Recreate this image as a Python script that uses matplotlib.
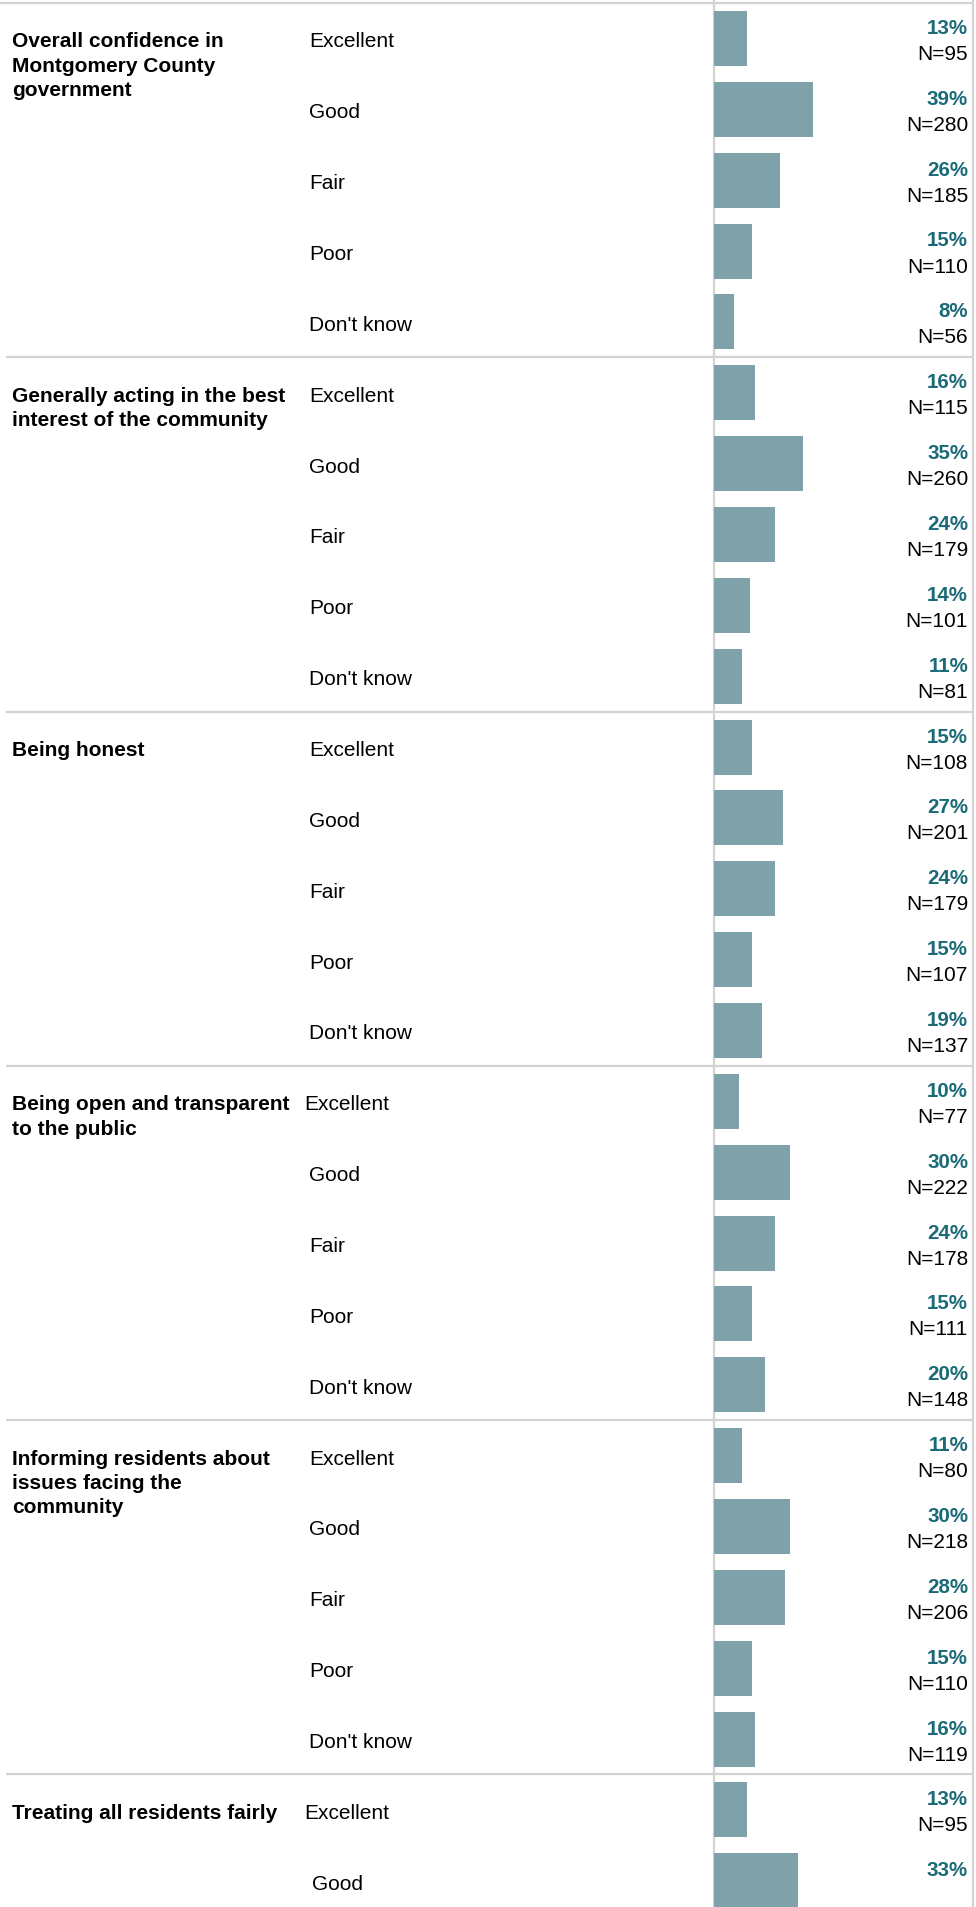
import matplotlib
matplotlib.use("Agg")
import matplotlib.pyplot as plt

plt.rcParams['font.family'] = ['Liberation Sans', 'DejaVu Sans']

# ---------------- data ----------------
group_titles = [
    "Overall confidence in\nMontgomery County\ngovernment",
    "Generally acting in the best\ninterest of the community",
    "Being honest",
    "Being open and transparent\nto the public",
    "Informing residents about\nissues facing the\ncommunity",
    "Treating all residents fairly",
]
categories = ["Excellent", "Good", "Fair", "Poor", "Don't know"]

pct_overall = [13, 39, 26, 15, 8]
n_overall = [95, 280, 185, 110, 56]
pct_interest = [16, 35, 24, 14, 11]
n_interest = [115, 260, 179, 101, 81]
pct_honest = [15, 27, 24, 15, 19]
n_honest = [108, 201, 179, 107, 137]
pct_open = [10, 30, 24, 15, 20]
n_open = [77, 222, 178, 111, 148]
pct_inform = [11, 30, 28, 15, 16]
n_inform = [80, 218, 206, 110, 119]
pct_fair = [13, 33]          # chart is cut off after the second row
n_fair = [95, None]          # N for "Good" not visible

pct_groups = [pct_overall, pct_interest, pct_honest, pct_open, pct_inform, pct_fair]
n_groups = [n_overall, n_interest, n_honest, n_open, n_inform, n_fair]

# ---------------- layout ----------------
W, H = 976, 1908
DPI = 100
ROW = 70.86              # px per row
TOP = 4.0                # px of top rule
fig = plt.figure(figsize=(W / DPI, H / DPI), dpi=DPI)

ylim = ((H - TOP) / ROW, -TOP / ROW)

# background / label axes in pixel x, row-unit y
bg = fig.add_axes([0, 0, 1, 1])
bg.set_xlim(0, W)
bg.set_ylim(*ylim)
bg.axis('off')

# bar axes
bx0, bx1 = 714, 968
ax = fig.add_axes([bx0 / W, 0, (bx1 - bx0) / W, 1])
ax.set_xlim(0, 100)
ax.set_ylim(*ylim)
ax.axis('off')

BAR_COLOR = '#7fa1a9'
PCT_COLOR = '#1b6a78'
LINE_COLOR = '#d3d3d3'
FS = 15
FS_PCT = 14.8

n_rows = len(categories)
label_x_shift = {(3, 0): -5, (5, 0): -5, (5, 1): 3}

for g, (title, pcts, ns) in enumerate(zip(group_titles, pct_groups, n_groups)):
    g0 = g * n_rows
    # separator rule
    bg.plot([0 if g == 0 else 6, 973], [g0, g0], color=LINE_COLOR, lw=1.6,
            solid_capstyle='butt', zorder=1)
    # group title (line by line)
    for li, line in enumerate(title.split("\n")):
        bg.text(12, g0 + 0.5 + 0.113 + li * (24.3 / ROW), line, fontsize=FS,
                fontweight='bold', ha='left', va='baseline', color='black')
    for r, p in enumerate(pcts):
        yc = g0 + r + 0.5
        ax.barh(yc, p, height=0.776, left=0, color=BAR_COLOR, linewidth=0, zorder=2)
        bg.text(309 + label_x_shift.get((g, r), 0), yc + 0.113, categories[r],
                fontsize=FS, ha='left', va='baseline', color='black')
        ax.text(100, yc - 0.078, f"{p}%", fontsize=FS_PCT, fontweight='bold',
                color=PCT_COLOR, ha='right', va='baseline')
        if ns[r] is not None:
            ax.text(100, yc + 0.29, f"N={ns[r]}", fontsize=FS, color='black',
                    ha='right', va='baseline')

# vertical rules
bg.plot([714, 714], [ylim[1], ylim[0]], color=LINE_COLOR, lw=1.6, zorder=3)
bg.plot([973, 973], [ylim[1], ylim[0]], color=LINE_COLOR, lw=1.6, zorder=3)

fig.savefig("out.png", dpi=DPI, facecolor='white')
